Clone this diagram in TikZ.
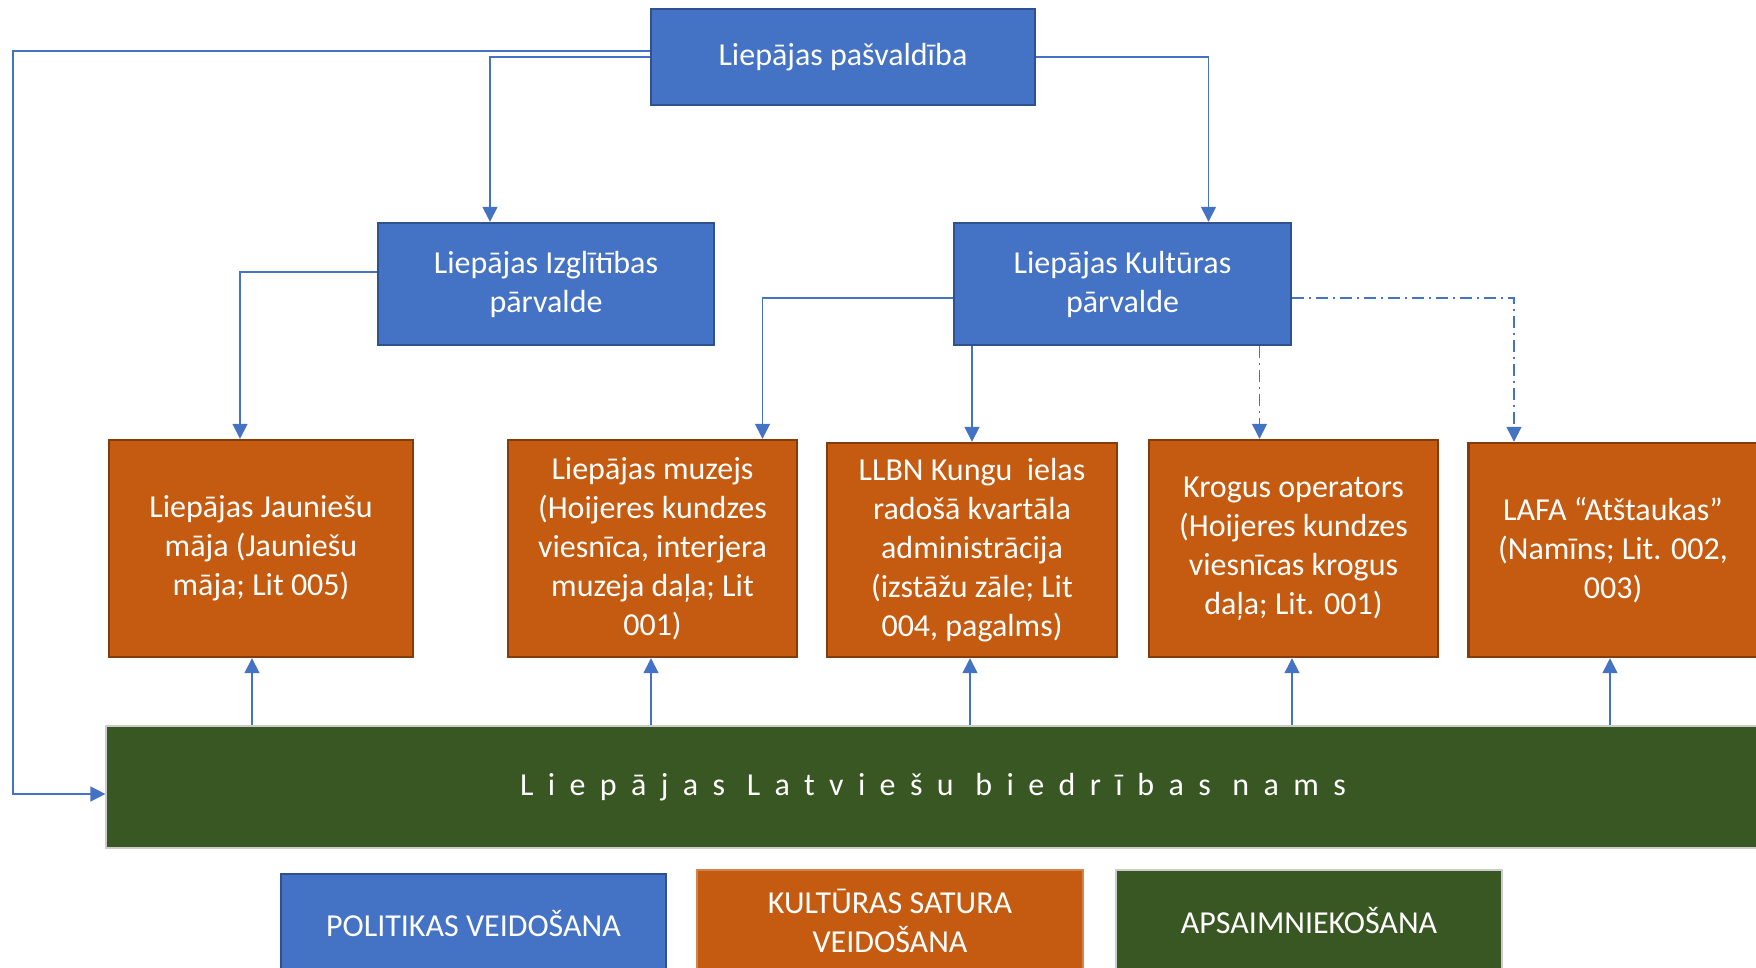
\documentclass[tikz,border=0pt]{standalone}
\usepackage{fontspec}
\setmainfont{Carlito}
\usetikzlibrary{arrows.meta}
\definecolor{polblue}{HTML}{4472C4}
\definecolor{polblueedge}{HTML}{2F528F}
\definecolor{kultorange}{HTML}{C55A11}
\definecolor{kultedge}{HTML}{843C0C}
\definecolor{apsgreen}{HTML}{385723}
\definecolor{linkblue}{HTML}{4472C4}

\begin{document}
\begin{tikzpicture}[x=0.5pt,y=-0.5pt,
  font=\fontsize{16}{19.5}\selectfont,
  bluebox/.style={draw=polblueedge,line width=1.2pt,fill=polblue,text=white,align=center,inner sep=0pt},
  orangebox/.style={draw=kultedge,line width=1.2pt,fill=kultorange,text=white,align=center,inner sep=0pt,minimum width=144.5pt,minimum height=108.5pt},
  greenbox/.style={draw=gray!40,line width=0.6pt,fill=apsgreen,text=white,align=center,inner sep=0pt},
  link/.style={draw=linkblue,line width=0.75pt,-{Triangle[width=7.5pt,length=7.5pt]}},
  dashlink/.style={link,dash pattern=on 6pt off 2.5pt on 1pt off 2.5pt}]
          \useasboundingbox (0,0) rectangle (1756,968);
          \clip (0,0) rectangle (1756,968);
          \node[bluebox,minimum width=192pt,minimum height=48pt] (pasv) at (843,57) {Liepājas pašvaldība};
          \node[bluebox,minimum width=168pt,minimum height=61pt] (izgl) at (546,284) {Liepājas Izglītības\\pārvalde};
          \node[bluebox,minimum width=168.5pt,minimum height=61pt] (kult) at (1122.5,284) {Liepājas Kultūras\\pārvalde};
          \node[orangebox,minimum width=152pt] (jaun) at (261,548.5) {Liepājas Jauniešu\\māja (Jauniešu\\māja; Lit 005)};
          \node[orangebox] (muz) at (652.5,548.5) {Liepājas muzejs\\(Hoijeres kundzes\\viesnīca, interjera\\muzeja daļa; Lit\\001)};
          \node[orangebox,minimum width=145pt,minimum height=107pt] (llbn) at (972,550) {LLBN Kungu~ ielas\\radošā kvartāla\\administrācija\\(izstāžu zāle; Lit\\004, pagalms)};
          \node[orangebox] (krog) at (1293.5,548.5) {Krogus operators\\(Hoijeres kundzes\\viesnīcas krogus\\daļa; Lit. 001)};
          \node[orangebox,minimum height=107pt] (lafa) at (1613,550) {LAFA “Atštaukas”\\(Namīns; Lit. 002,\\003)};
          \node[greenbox,minimum width=827pt,minimum height=61pt] (nams) at (933,787) {\addfontfeature{LetterSpace=45}Liepājas Latviešu biedrības nams};
          \node[bluebox,minimum width=192.5pt,minimum height=50pt] (polit) at (473.5,924) {POLITIKAS VEIDOŠANA};
          \node[orangebox,draw=kultorange!75!white,line width=0.8pt,minimum width=193pt,minimum height=51pt] (saturs) at (890,921) {KULTŪRAS SATURA\\VEIDOŠANA};
          \node[greenbox,minimum width=193pt,minimum height=51pt] (apsaim) at (1309,921) {APSAIMNIEKOŠANA};
          \coordinate (rail) at (13,794);
          \draw[link] ([yshift=3pt]pasv.west) -| (rail) -- ([yshift=-3.5pt]nams.west);
          \draw[link] (pasv.west) -| ([xshift=-28pt]izgl.north);
          \draw[link] (pasv.east) -| ([xshift=43pt]kult.north);
          \draw[link] ([yshift=6pt]izgl.west) -| ([xshift=-10.5pt]jaun.north);
          \draw[link] ([yshift=-7pt]kult.west) -| ([xshift=55pt]muz.north);
          \draw[link] (kult.south -| llbn.north) -- (llbn.north);
          \draw[dashlink] ([xshift=-17pt]kult.south -| krog.north) -- ([xshift=-17pt]krog.north);
          \draw[dashlink] ([yshift=-7pt]kult.east) -| ([xshift=-49.5pt]lafa.north);
          \foreach \nm/\dx in {jaun/-4.5pt,muz/-0.75pt,llbn/-1pt,krog/-0.75pt,lafa/-1.5pt}
            \draw[link] ([xshift=\dx]nams.north -| \nm.south) -- ([xshift=\dx]\nm.south);
        \end{tikzpicture}
\end{document}
